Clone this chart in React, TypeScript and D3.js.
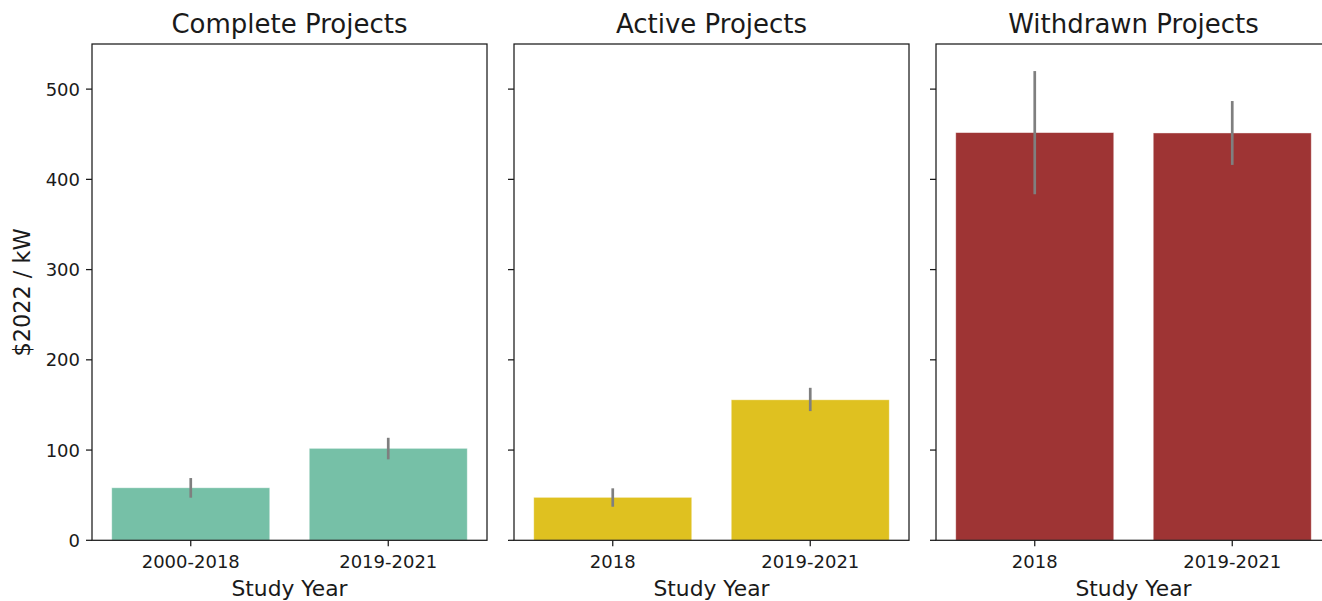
import React from "react";
import * as d3 from "d3";

const panelTitles = ["Complete Projects", "Active Projects", "Withdrawn Projects"];
const completeCats = ["2000-2018", "2019-2021"];
const completeValues = [58.2, 101.9];
const completeLow = [47.2, 89.7];
const completeHigh = [69.0, 113.6];
const activeCats = ["2018", "2019-2021"];
const activeValues = [47.6, 155.7];
const activeLow = [37.2, 143.2];
const activeHigh = [57.6, 169.0];
const withdrawnCats = ["2018", "2019-2021"];
const withdrawnValues = [451.8, 451.4];
const withdrawnLow = [383.5, 416.0];
const withdrawnHigh = [520.0, 486.8];
const yTicks = [0, 100, 200, 300, 400, 500];
const panelColors = ["#76c0a7", "#dfc120", "#9e3434"];
const xLabel = "Study Year";
const yLabel = "$2022 / kW";

const W = 1322;
const H = 601;
const FONT = "DejaVu Sans, sans-serif";
const INK = "#1a1a1a";

const panelsData = [
  { cats: completeCats, values: completeValues, low: completeLow, high: completeHigh },
  { cats: activeCats, values: activeValues, low: activeLow, high: activeHigh },
  { cats: withdrawnCats, values: withdrawnValues, low: withdrawnLow, high: withdrawnHigh },
];

const panelLefts = [92, 514, 936];
const panelW = 395;
const top = 44;
const bottom = 540.3;

export default function App() {
  const y = d3.scaleLinear().domain([0, 550]).range([bottom, top]);
  return (
    <svg
      width={W}
      height={H}
      style={{ position: "absolute", left: 0, top: 0, background: "#fff" }}
      fontFamily={FONT}
    >
      {panelsData.map((p, pi) => {
        const x0 = panelLefts[pi];
        const x = d3
          .scaleBand<string>()
          .domain(p.cats)
          .range([x0, x0 + panelW])
          .paddingInner(0.2)
          .paddingOuter(0.1);
        const bw = x.bandwidth();
        return (
          <g key={pi}>
            {p.cats.map((c, i) => (
              <rect
                key={c}
                x={x(c)!}
                y={y(p.values[i])}
                width={bw}
                height={y(0) - y(p.values[i])}
                fill={panelColors[pi]}
                stroke="#ffffff"
                strokeOpacity={0.5}
                strokeWidth={0.8}
              />
            ))}
            {p.cats.map((c, i) => (
              <line
                key={"e" + c}
                x1={x(c)! + bw / 2}
                x2={x(c)! + bw / 2}
                y1={y(p.low[i])}
                y2={y(p.high[i])}
                stroke="#7f7f7f"
                strokeWidth={2.7}
              />
            ))}
            <rect
              x={x0}
              y={top}
              width={panelW}
              height={bottom - top}
              fill="none"
              stroke={INK}
              strokeWidth={1.25}
            />
            {yTicks.map((t) => (
              <g key={t}>
                <line x1={x0 - 6} x2={x0} y1={y(t)} y2={y(t)} stroke={INK} strokeWidth={1.25} />
                {pi === 0 && (
                  <text
                    x={x0 - 12}
                    y={y(t)}
                    textAnchor="end"
                    dominantBaseline="central"
                    fontSize={18}
                    fill={INK}
                  >
                    {t}
                  </text>
                )}
              </g>
            ))}
            {p.cats.map((c) => (
              <g key={"t" + c}>
                <line
                  x1={x(c)! + bw / 2}
                  x2={x(c)! + bw / 2}
                  y1={bottom}
                  y2={bottom + 6}
                  stroke={INK}
                  strokeWidth={1.25}
                />
                <text x={x(c)! + bw / 2} y={568.3} textAnchor="middle" fontSize={18} fill={INK}>
                  {c}
                </text>
              </g>
            ))}
            <text x={x0 + panelW / 2} y={596} textAnchor="middle" fontSize={21.8} fill={INK}>
              {xLabel}
            </text>
            <text x={x0 + panelW / 2} y={33.3} textAnchor="middle" fontSize={26} fill={INK}>
              {panelTitles[pi]}
            </text>
          </g>
        );
      })}
      <text
        transform={`translate(30, 292.5) rotate(-90)`}
        textAnchor="middle"
        fontSize={22.4}
        fill={INK}
      >
        {yLabel}
      </text>
    </svg>
  );
}
